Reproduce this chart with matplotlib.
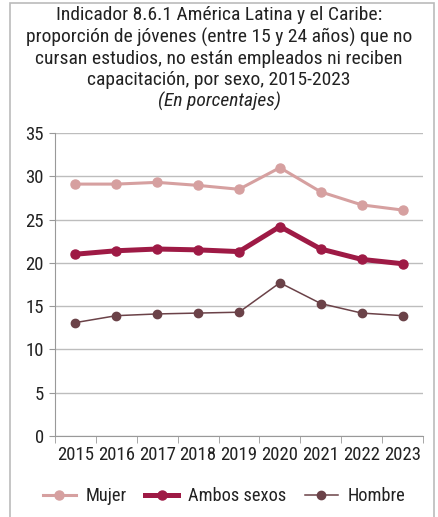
import numpy as np
import matplotlib
matplotlib.use('Agg')
import matplotlib.pyplot as plt
from matplotlib.patches import Rectangle

plt.rcParams['font.family'] = ['Roboto Condensed', 'DejaVu Sans']

### Data
years = ['2015', '2016', '2017', '2018', '2019', '2020', '2021', '2022', '2023']
mujer = [29.1, 29.1, 29.3, 28.95, 28.5, 31.0, 28.2, 26.7, 26.1]
ambos = [21.0, 21.4, 21.6, 21.5, 21.3, 24.2, 21.6, 20.4, 19.9]
hombre = [13.1, 13.9, 14.1, 14.2, 14.3, 17.7, 15.3, 14.2, 13.9]

title = ('Indicador 8.6.1 América Latina y el Caribe:\n'
         'proporción de jóvenes (entre 15 y 24 años) que no\n'
         'cursan estudios, no están empleados ni reciben\n'
         'capacitación, por sexo, 2015-2023')
subtitle = '(En porcentajes)'

### Plot
fig = plt.figure(figsize=(4.38, 5.17), dpi=100)
ax = fig.add_axes([0.1256, 0.1567, 0.9658 - 0.1256, 0.7427 - 0.1567])

x = np.arange(len(years))
ax.plot(x, mujer, color='#D6A0A0', lw=2.2, marker='o', ms=6.5, label='Mujer', zorder=3)
ax.plot(x, ambos, color='#9E1A45', lw=3.6, marker='o', ms=6.5, label='Ambos sexos', zorder=4)
ax.plot(x, hombre, color='#6B4248', lw=1.1, marker='o', ms=6, label='Hombre', zorder=3)

ax.set_xlim(-0.5, len(years) - 0.5)
ax.set_ylim(0, 35)
ax.set_yticks(np.arange(0, 36, 5))
ax.set_xticks(x)
ax.set_xticklabels(years)
ax.set_xticks(np.arange(-0.5, len(years), 1), minor=True)
ax.tick_params(axis='x', which='major', length=0, pad=7, labelsize=13.5, colors='#222222')
ax.tick_params(axis='x', which='minor', length=5, color='#999999')
ax.tick_params(axis='y', length=4, color='#999999', labelsize=13.5, labelcolor='#222222', pad=4)

ax.grid(axis='y', color='#BDBDBD', lw=1)
ax.set_axisbelow(True)
for s in ['top', 'right']:
    ax.spines[s].set_visible(False)
for s in ['left', 'bottom']:
    ax.spines[s].set_color('#999999')

fig.text(0.5, 0.988, title, ha='center', va='top', fontsize=14, color='#222222', linespacing=1.22)
fig.text(0.5, 0.823, subtitle, ha='center', va='top', fontsize=14, style='italic', color='#222222')

leg = fig.legend(loc='center', bbox_to_anchor=(0.512, 0.04), ncol=3, frameon=False,
                 fontsize=13.2, handlelength=1.8, columnspacing=1.0, handletextpad=0.55)
for t in leg.get_texts():
    t.set_color('#222222')

fig.patches.append(Rectangle((10 / 438, -0.01), 424 / 438, 1 - 3 / 517 + 0.01,
                             transform=fig.transFigure, fill=False, ec='#BBBBBB', lw=1.2))

plt.savefig('out.png', dpi=100)
plt.close(fig)
